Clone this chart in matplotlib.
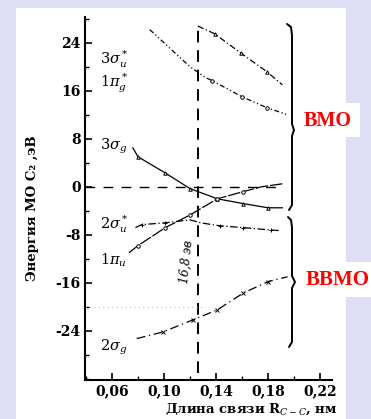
import matplotlib.pyplot as plt
from matplotlib.patches import Rectangle
from matplotlib.ticker import MultipleLocator

plt.rcParams['font.family'] = ['DejaVu Serif']
plt.rcParams['mathtext.fontset'] = 'dejavuserif'

# MO energies (eV) of C2 versus C-C bond length (nm)
x_3su = [0.126, 0.139, 0.159, 0.179, 0.191]
y_3su = [26.8, 25.5, 22.3, 19.2, 17.0]
x_1pg = [0.089, 0.120, 0.132, 0.137, 0.160, 0.179, 0.195]
y_1pg = [26.2, 20.0, 18.2, 17.7, 15.0, 13.2, 12.0]
x_3sg = [0.076, 0.080, 0.101, 0.120, 0.141, 0.161, 0.180, 0.191]
y_3sg = [6.5, 5.0, 2.3, -0.3, -2.0, -2.8, -3.5, -3.5]
x_1pu = [0.073, 0.080, 0.101, 0.120, 0.141, 0.161, 0.175, 0.191]
y_1pu = [-11.0, -9.8, -6.8, -4.7, -2.0, -0.8, 0.0, 0.5]
x_2su = [0.078, 0.083, 0.101, 0.120, 0.128, 0.143, 0.161, 0.182, 0.189]
y_2su = [-6.8, -6.3, -6.0, -5.5, -6.0, -6.5, -6.8, -7.2, -7.3]
x_2sg = [0.079, 0.099, 0.122, 0.141, 0.161, 0.180, 0.195]
y_2sg = [-25.3, -24.2, -22.2, -20.5, -17.7, -15.8, -15.0]

r_cross = 0.126          # crossing point, 16.8 eV
zero_end = 0.19
dotted_level = -20
dotted_end = 0.13

orbital_names = [r'$3\sigma_u^*$', r'$1\pi_g^*$', r'$3\sigma_g$',
                 r'$2\sigma_u^*$', r'$1\pi_u$', r'$2\sigma_g$']
name_levels = [21.2, 17.2, 6.8, -6.2, -12.2, -26.7]

x_ticks = [0.06, 0.10, 0.14, 0.18, 0.22]
x_ticklabels = ['0,06', '0,10', '0,14', '0,18', '0,22']
y_ticks = [-24, -16, -8, 0, 8, 16, 24]
y_ticklabels = ['-24', '-16', '-8', '0', '8', '16', '24']

W, H = 371, 419
fig = plt.figure(figsize=(W / 100, H / 100), dpi=100, facecolor='#dedef7')

# background layer in pixel units: paper sheet, braces, group labels
bg = fig.add_axes([0, 0, 1, 1], zorder=0)
bg.set_xlim(0, W)
bg.set_ylim(H, 0)
bg.axis('off')
bg.add_patch(Rectangle((16, 8), 330, H - 8, facecolor='white', edgecolor='none'))

brace_up_x = [287, 291, 292, 292, 294, 292, 292, 289]
brace_up_y = [24, 27, 35, 124, 130, 136, 205, 210]
brace_lo_x = [288, 291, 292, 292, 295, 292, 292, 289]
brace_lo_y = [217, 220, 227, 276, 282, 288, 342, 347]
bg.plot(brace_up_x, brace_up_y, color='black', lw=1.4, solid_capstyle='round')
bg.plot(brace_lo_x, brace_lo_y, color='black', lw=1.4, solid_capstyle='round')

bg.add_patch(Rectangle((300, 103), 60, 34, facecolor='white', edgecolor='none'))
bg.add_patch(Rectangle((300, 262), 71, 35, facecolor='white', edgecolor='none'))
bg.text(328, 121, 'ВМО', color='red', fontsize=14.5, fontweight='bold',
        family='Liberation Serif', ha='center', va='center')
bg.text(338, 280, 'ВВМО', color='red', fontsize=15, fontweight='bold',
        family='Liberation Serif', ha='center', va='center')

ax = fig.add_axes([85 / W, 39 / H, 247 / W, 363 / H], zorder=1)
ax.set_facecolor('none')
ax.set_xlim(0.0392, 0.2292)
ax.set_ylim(-32.2, 28.3)
for side in ['top', 'right']:
    ax.spines[side].set_visible(False)
for side in ['left', 'bottom']:
    ax.spines[side].set_linewidth(1.5)

ax.vlines(r_cross, -31, y_3su[0], color='black', lw=1.4, linestyles=(0, (6, 4)))
ax.hlines(0, ax.get_xlim()[0], zero_end, color='black', lw=1.0, linestyles=(0, (7, 6)))
ax.hlines(dotted_level, ax.get_xlim()[0], dotted_end, color='#bbbbbb', lw=0.8,
          linestyles=(0, (1, 3)))

kw = dict(color='black', lw=0.9, ms=2.5, mfc='white', mew=0.7)
ax.plot(x_3su, y_3su, ls=(0, (5, 2, 1, 2)), marker='^', markevery=[1, 2, 3], **kw)
ax.plot(x_1pg, y_1pg, ls=(0, (4, 2, 1, 2, 1, 2)), marker='o', markevery=[3, 4, 5], **kw)
ax.plot(x_3sg, y_3sg, ls='-', marker='^', markevery=[1, 2, 3, 4, 5, 6], **kw)
ax.plot(x_1pu, y_1pu, ls=(0, (10, 1.5)), marker='o', markevery=[1, 2, 3, 4, 5], **kw)
ax.plot(x_2su, y_2su, ls=(0, (6, 2, 1, 2)), marker='+', markevery=[1, 2, 5, 6, 7], **kw)
ax.plot(x_2sg, y_2sg, ls=(0, (7, 3, 1, 3)), marker='x', markevery=[1, 2, 3, 4, 5], **kw)

for name, level in zip(orbital_names, name_levels):
    ax.text(0.0508, level, name, fontsize=10.5, ha='left', va='center')

ax.text(r_cross - 0.0085, -12.5, '16,8 эв', fontsize=8.5, style='italic',
        rotation=84, ha='center', va='center')

ax.set_xticks(x_ticks)
ax.set_xticklabels(x_ticklabels, fontweight='bold')
ax.set_yticks(y_ticks)
ax.set_yticklabels(y_ticklabels, fontweight='bold')
ax.xaxis.set_minor_locator(MultipleLocator(0.02))
ax.yaxis.set_minor_locator(MultipleLocator(4))
ax.tick_params(which='major', direction='in', length=5, width=1.2, labelsize=10, pad=3)
ax.tick_params(which='minor', direction='in', length=3, width=1.0)

ax.set_ylabel('Энергия МО C₂ ,эВ', fontsize=9.5, fontweight='bold')
ax.yaxis.set_label_coords(-0.186, 0.474)
ax.set_xlabel('Длина связи R$_{C-C}$, нм', fontsize=9.5, fontweight='bold')
ax.xaxis.set_label_coords(0.672, -0.06)

fig.savefig('out.png', dpi=100, facecolor=fig.get_facecolor())
